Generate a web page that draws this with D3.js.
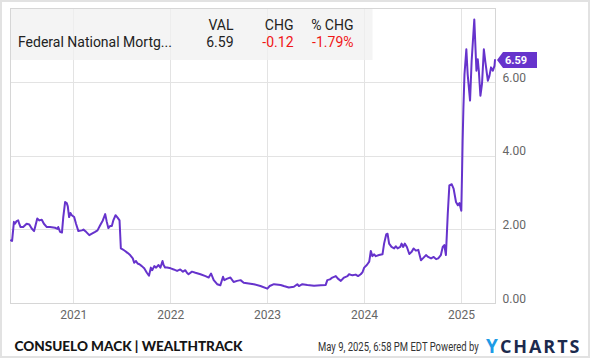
<!DOCTYPE html>
<html><head><meta charset="utf-8">
<script src="https://cdn.jsdelivr.net/npm/d3@7"></script>
<style>html,body{margin:0;padding:0;background:#fff;}svg{display:block;}</style>
</head><body>
<svg id="c" width="590" height="358"></svg>
<script>
const dates = ["2020-05-11","2020-05-15","2020-05-22","2020-05-26","2020-06-01","2020-06-07","2020-06-11","2020-06-16","2020-06-26","2020-07-09","2020-07-19","2020-07-28","2020-08-06","2020-08-13","2020-08-18","2020-08-26","2020-09-04","2020-09-12","2020-09-23","2020-10-05","2020-10-24","2020-11-02","2020-11-05","2020-11-12","2020-11-19","2020-11-24","2020-12-01","2020-12-07","2020-12-11","2020-12-16","2020-12-21","2020-12-26",
"2021-01-04","2021-01-11","2021-01-20","2021-02-02","2021-02-08","2021-02-18","2021-03-02","2021-03-12","2021-03-24","2021-04-02","2021-04-12","2021-04-22","2021-05-01","2021-05-07","2021-05-13","2021-05-20","2021-05-26","2021-06-01","2021-06-09","2021-06-16","2021-06-24","2021-06-29","2021-07-07","2021-07-15","2021-07-24","2021-08-03","2021-08-13","2021-08-18","2021-08-25","2021-08-31","2021-09-07","2021-09-16","2021-09-25","2021-10-05","2021-10-13","2021-10-20","2021-10-25","2021-11-02","2021-11-09","2021-11-18","2021-11-25","2021-12-03","2021-12-07","2021-12-13","2021-12-20",
"2022-01-03","2022-01-14","2022-01-27","2022-02-08","2022-02-18","2022-02-27","2022-03-05","2022-03-11","2022-03-24","2022-04-06","2022-04-25","2022-05-14","2022-05-26","2022-06-04","2022-06-14","2022-06-27","2022-07-09","2022-07-19","2022-07-24","2022-08-04","2022-08-16","2022-08-28","2022-09-10","2022-09-23","2022-10-05","2022-10-24","2022-11-12","2022-12-07",
"2023-01-02","2023-01-11","2023-01-27","2023-02-21","2023-03-05","2023-03-24","2023-04-12","2023-04-25","2023-05-01","2023-05-14","2023-06-02","2023-06-27","2023-07-22","2023-08-10","2023-08-16","2023-08-26","2023-09-04","2023-09-17","2023-09-25","2023-10-06","2023-10-18","2023-10-31","2023-11-06","2023-11-19","2023-12-01","2023-12-10","2023-12-20","2023-12-27",
"2024-01-02","2024-01-12","2024-01-21","2024-01-27","2024-02-02","2024-02-08","2024-02-15","2024-02-27","2024-03-11","2024-03-17","2024-03-25","2024-03-30","2024-04-05","2024-04-14","2024-04-24","2024-04-30","2024-05-07","2024-05-17","2024-05-22","2024-05-28","2024-06-03","2024-06-11","2024-06-20","2024-06-29","2024-07-06","2024-07-15","2024-07-24","2024-08-03","2024-08-13","2024-08-22","2024-08-30","2024-09-10","2024-09-20","2024-09-29","2024-10-07","2024-10-17","2024-10-24","2024-10-30","2024-11-05","2024-11-12","2024-11-18","2024-11-27","2024-12-04","2024-12-13","2024-12-20","2024-12-26",
"2025-01-02","2025-01-05","2025-01-07","2025-01-10","2025-01-14","2025-01-21","2025-01-26","2025-02-04","2025-02-10","2025-02-20","2025-02-28","2025-03-05","2025-03-09","2025-03-15","2025-03-21","2025-03-28","2025-04-03","2025-04-12","2025-04-18","2025-04-24","2025-05-01","2025-05-07","2025-05-09"];
const values = [1.70,1.68,2.20,2.15,2.22,2.24,2.15,2.06,2.06,2.15,2.13,2.02,1.95,2.15,2.29,2.24,2.26,2.15,2.06,2.06,2.04,2.01,2.06,1.93,1.91,2.33,2.74,2.71,2.62,2.33,2.44,2.38,
2.33,2.15,1.95,1.97,1.99,1.93,1.84,1.88,1.93,1.97,2.11,2.24,2.41,2.20,2.03,2.09,2.09,2.25,2.38,2.32,2.24,1.48,1.45,1.41,1.36,1.30,1.21,1.09,1.14,1.07,1.05,1.00,0.94,0.82,0.74,0.96,0.89,1.00,0.96,1.03,0.96,1.14,1.03,0.96,0.96,
0.94,0.91,0.87,0.91,0.85,0.89,0.82,0.78,0.85,0.82,0.78,0.73,0.69,0.80,0.62,0.51,0.48,0.71,0.62,0.66,0.69,0.57,0.60,0.62,0.55,0.53,0.51,0.46,
0.39,0.46,0.51,0.49,0.46,0.42,0.44,0.51,0.46,0.51,0.49,0.47,0.48,0.49,0.62,0.64,0.69,0.73,0.66,0.60,0.69,0.73,0.78,0.75,0.77,0.73,0.78,0.84,
0.96,1.03,1.12,1.41,1.27,1.32,1.27,1.30,1.32,1.61,1.86,1.88,1.61,1.52,1.48,1.54,1.48,1.52,1.61,1.52,1.61,1.52,1.33,1.39,1.48,1.42,1.44,1.16,1.23,1.30,1.25,1.21,1.25,1.19,1.21,1.30,1.52,1.57,1.30,2.42,3.19,3.22,3.10,2.74,2.65,2.71,
2.50,3.60,4.40,5.30,6.20,6.88,6.20,5.49,6.57,7.69,6.30,6.61,6.30,5.62,5.94,6.88,6.52,6.03,6.16,6.39,6.30,6.43,6.59];
const yTicks = [0, 2, 4, 6];
const xTickYears = [2021, 2022, 2023, 2024, 2025];
const seriesName = "Federal National Mortg...";
const headers = ["VAL", "CHG", "% CHG"];
const lastVals = ["6.59", "-0.12", "-1.79%"];
const lastValue = 6.59;
const footerLeft = "CONSUELO MACK | WEALTHTRACK";
const footerDate = "May 9, 2025, 6:58 PM EDT Powered by";

const svg = d3.select("#c");
const L = 10.5, R = 495.5, T = 8, B = 303;
const parse = d3.utcParse("%Y-%m-%d");
const data = dates.map((d, i) => ({ date: parse(d), value: values[i] }));
const x = d3.scaleUtc().domain([parse("2020-05-11"), parse("2025-05-09")]).range([L + 0.5, R - 0.5]);
const y = d3.scaleLinear().domain([0, 8]).range([B, T]);
const lineColor = "#6633cc";
const font = "Roboto, 'Open Sans', sans-serif";

// outer border
svg.append("rect").attr("x", 1).attr("y", 1).attr("width", 588).attr("height", 356)
  .attr("fill", "#fff").attr("stroke", "#e2e2e2").attr("stroke-width", 2);

// grid
const g = svg.append("g");
g.selectAll(".hg").data(yTicks.filter(v => v > 0)).join("line")
  .attr("x1", L).attr("x2", R).attr("y1", d => Math.round(y(d)) + 0.5).attr("y2", d => Math.round(y(d)) + 0.5)
  .attr("stroke", "#e3e3e3");
g.selectAll(".vg").data(xTickYears).join("line")
  .attr("x1", d => Math.round(x(new Date(Date.UTC(d, 0, 1)))) + 0.5).attr("x2", d => Math.round(x(new Date(Date.UTC(d, 0, 1)))) + 0.5)
  .attr("y1", T).attr("y2", B).attr("stroke", "#e3e3e3");
svg.append("rect").attr("x", L).attr("y", T + 0.5).attr("width", R - L).attr("height", B - T)
  .attr("fill", "none").attr("stroke", "#d6d6d6");

// legend box
svg.append("rect").attr("x", L + 0.5).attr("y", T + 1).attr("width", 372 - L).attr("height", 51)
  .attr("fill", "#f0f0f0").attr("opacity", 0.75);
const lg = svg.append("g").attr("font-family", font).attr("font-size", 14);
lg.append("text").attr("x", 18).attr("y", 46.5).attr("fill", "#222").text(seriesName);
const colX = [233.5, 293.5, 353.5];
headers.forEach((h, i) => {
  lg.append("text").attr("x", colX[i]).attr("y", 29.5).attr("text-anchor", "end").attr("fill", "#222").text(h);
  lg.append("text").attr("x", colX[i]).attr("y", 46.5).attr("text-anchor", "end")
    .attr("fill", i === 0 ? "#222" : "#f01616").text(lastVals[i]);
});

// axes labels
const axY = d3.axisRight(y).tickValues(yTicks).tickFormat(d3.format(".2f")).tickSize(0).tickPadding(7);
const ya = svg.append("g").attr("transform", `translate(${R},0)`).call(axY);
ya.select(".domain").remove();
ya.selectAll("text").attr("font-family", font).attr("font-size", 12).attr("fill", "#666").attr("dy", "-0.05em");
const axX = d3.axisBottom(x).tickValues(xTickYears.map(d => new Date(Date.UTC(d, 0, 1))))
  .tickFormat(d3.utcFormat("%Y")).tickSize(0).tickPadding(7);
const xa = svg.append("g").attr("transform", `translate(0,${B})`).call(axX);
xa.select(".domain").remove();
xa.selectAll("text").attr("font-family", font).attr("font-size", 12).attr("fill", "#666");

// line
svg.append("path").datum(data)
  .attr("d", d3.line().x(d => x(d.date)).y(d => y(d.value)))
  .attr("fill", "none").attr("stroke", lineColor).attr("stroke-width", 2)
  .attr("stroke-linejoin", "round").attr("stroke-linecap", "round");

// value tag
const ty = y(lastValue);
svg.append("path").attr("d", `M${R + 1.5},${ty} L${R + 7.5},${ty - 8} L${R + 41.5},${ty - 8} L${R + 41.5},${ty + 8} L${R + 7.5},${ty + 8} Z`)
  .attr("fill", lineColor);
svg.append("text").attr("x", R + 9.5).attr("y", ty + 4).attr("font-family", font).attr("font-size", 11)
  .attr("font-weight", "bold").attr("fill", "#fff").text(lastVals[0]);

// footer
svg.append("text").attr("x", 14.5).attr("y", 350.5).attr("font-family", "Lato, 'Open Sans', sans-serif")
  .attr("font-size", 14).attr("font-weight", 900).attr("fill", "#151515")
  .attr("textLength", 228).attr("lengthAdjust", "spacingAndGlyphs").text(footerLeft);
const dt = svg.append("text").attr("x", 0).attr("y", 0).attr("font-family", font)
  .attr("font-size", 12.5).attr("fill", "#333").text(footerDate);
const dtLen = dt.node().getComputedTextLength();
dt.attr("transform", `translate(318,351) scale(${161 / dtLen},1)`);
svg.append("text").attr("x", 486).attr("y", 352.5).attr("font-family", "'Open Sans', Roboto, sans-serif")
  .attr("font-size", 19).attr("font-weight", 700).attr("fill", "#1e9be6").text("Y");
svg.append("text").attr("x", 500).attr("y", 352.5).attr("font-family", "'Open Sans', Roboto, sans-serif")
  .attr("font-size", 18).attr("font-weight", 700).attr("fill", "#1c2a4d").attr("letter-spacing", 1.9).text("CHARTS");
</script>
</body></html>
